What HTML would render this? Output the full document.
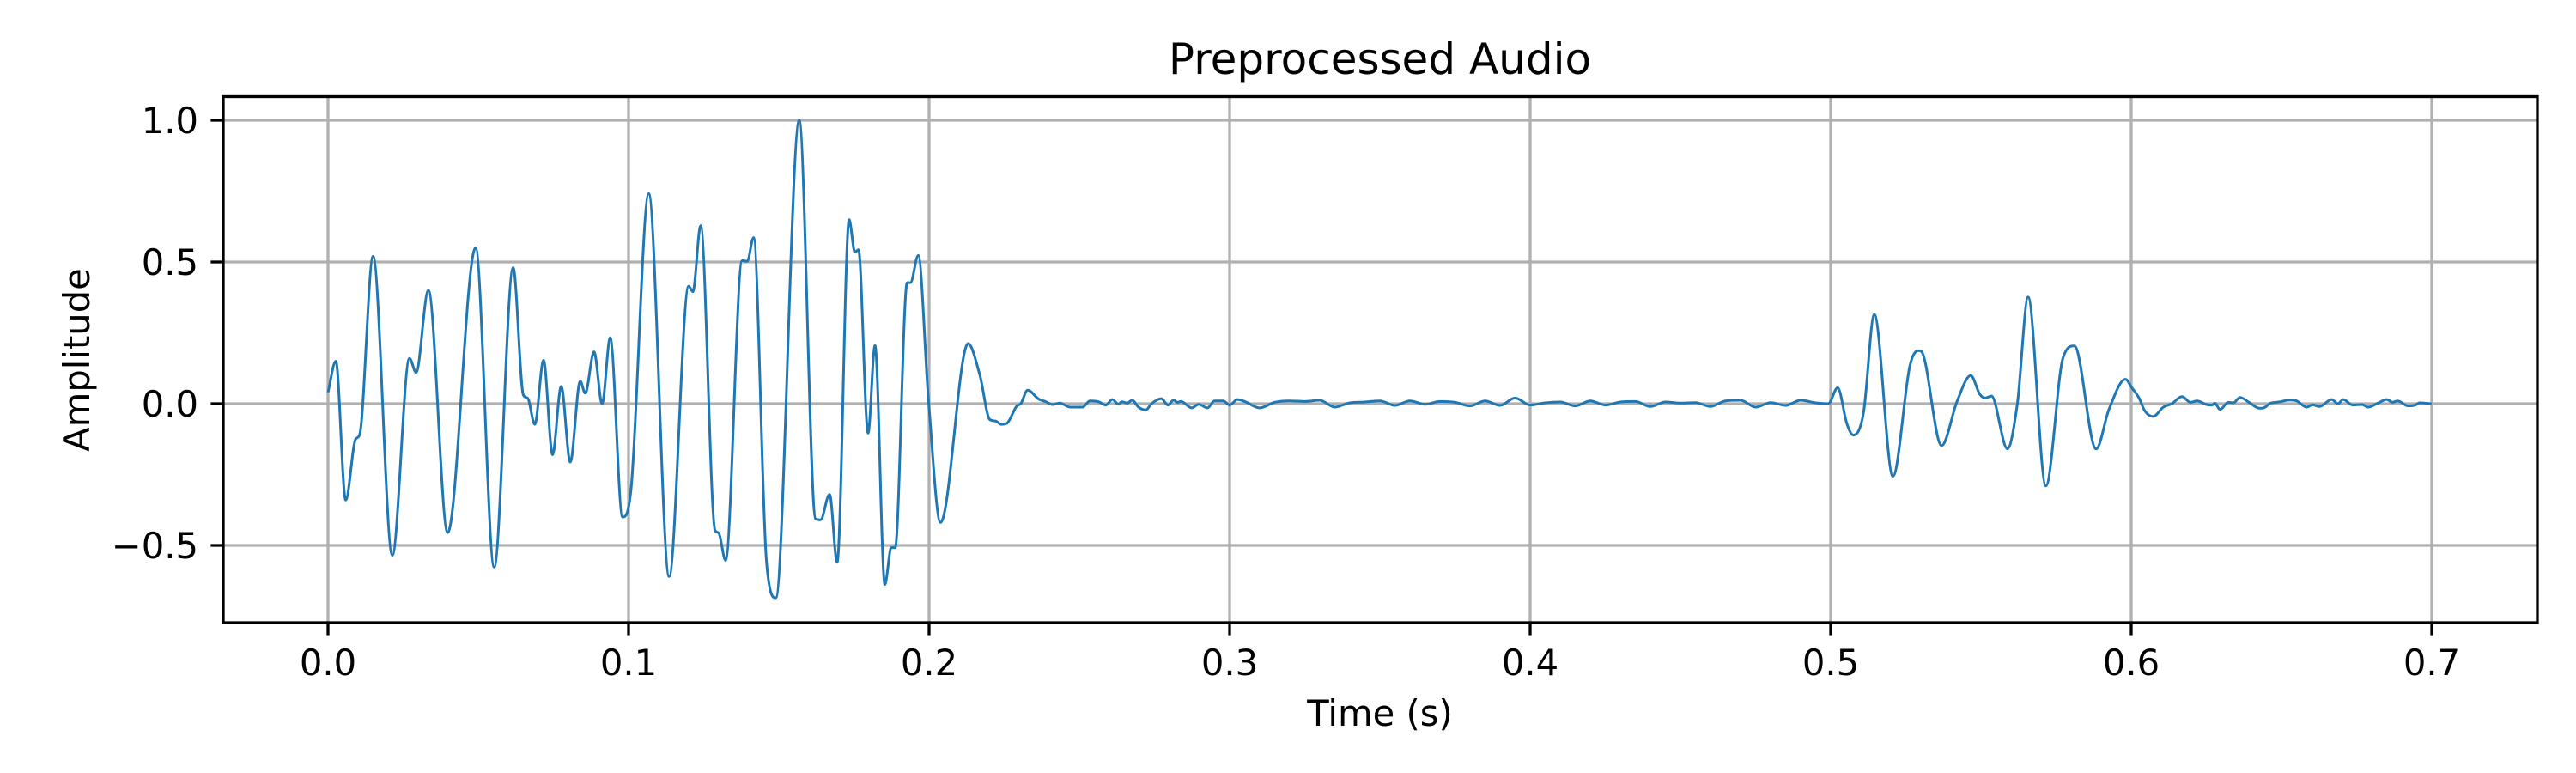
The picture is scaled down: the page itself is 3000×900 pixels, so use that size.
<!DOCTYPE html>
<html><head><meta charset="utf-8"><style>
html,body{margin:0;padding:0;background:#fff;}
svg{display:block;}
text{font-family:"DejaVu Sans","Liberation Sans",sans-serif;fill:#000;}
</style></head><body>
<svg id="chart" width="3000" height="900" viewBox="0 0 3000 900" xmlns="http://www.w3.org/2000/svg">
<rect x="0" y="0" width="3000" height="900" fill="#fff"/>
<g id="grid"></g>
<g id="series"></g>
<rect x="260" y="112.5" width="2695" height="612.5" fill="none" stroke="#000" stroke-width="3.3"/>
<g id="ticks"></g>
<text x="1607" y="86" font-size="50" text-anchor="middle">Preprocessed Audio</text>
<text x="1607" y="845" font-size="41.7" text-anchor="middle">Time (s)</text>
<text x="0" y="0" font-size="41.7" text-anchor="middle" transform="translate(104,419) rotate(-90)">Amplitude</text>
</svg>
<script>
const xTicks = [0.0, 0.1, 0.2, 0.3, 0.4, 0.5, 0.6, 0.7];
const xTickLabels = ["0.0","0.1","0.2","0.3","0.4","0.5","0.6","0.7"];
const yTicks = [-0.5, 0.0, 0.5, 1.0];
const yTickLabels = ["\u22120.5","0.0","0.5","1.0"];
const times = [0,0.0026,0.0059,0.0092,0.0105,0.0150,0.0214,0.0271,0.0293,0.0334,0.0398,0.0491,0.0553,0.0616,0.0650,0.0664,0.0688,0.0717,0.0747,0.0776,0.0806,0.0839,0.0856,0.0885,0.0912,0.0939,0.0980,0.1008,
0.1067,0.1135,0.1200,0.1214,0.1240,0.1288,0.1299,0.1323,0.1378,0.1395,0.1416,0.1459,0.1490,0.1568,0.1622,0.1639,0.1669,0.1694,0.1734,0.1753,0.1765,0.1797,0.1820,0.1853,0.1874,0.1887,0.1927,0.1938,0.1964,0.1998,0.2038,
0.2130,0.2169,0.2202,0.2221,0.2240,0.2259,0.2292,0.2305,0.2328,0.2364,0.2388,0.2411,0.2435,0.2469,0.2511,0.2535,0.2564,0.2588,0.2610,0.2630,0.2642,0.2659,0.2676,0.2697,0.2721,0.2740,0.2773,0.2795,0.2814,0.2826,0.2838,0.2874,0.2897,0.2926,0.2950,0.2979,0.3000,0.3026,
0.3050,0.3100,0.3150,0.3200,0.3250,0.3300,0.3350,0.3400,0.3450,0.3500,0.3550,0.3600,0.3650,0.3700,0.3750,0.3800,0.3850,0.3900,0.3950,0.4000,0.4050,0.4100,0.4150,0.4200,0.4250,0.4300,0.4350,0.4400,0.4450,0.4500,0.4550,0.4600,0.4650,0.4700,0.4750,0.4800,0.4850,0.4900,0.4950,
0.4992,0.5023,0.5054,0.5075,0.5097,0.5111,0.5145,0.5207,0.5264,0.5292,0.5302,0.5369,0.5421,0.5466,0.5497,0.5514,0.5535,0.5588,0.5621,0.5657,0.5716,0.5773,0.5811,0.5883,0.5926,0.5981,0.6002,0.6026,0.6045,0.6073,0.6107,0.6135,0.6169,0.6197,0.6219,0.6250,0.6269,0.6278,0.6295,0.6324,0.6340,0.6362,0.6392,0.6426,0.6440,0.6464,0.6483,0.6497,0.6526,0.6550,0.6583,0.6604,0.6626,0.6667,0.6688,0.6705,0.6737,0.6768,0.6788,0.6821,0.6850,0.6870,0.6886,0.6921,0.6945,0.6959,0.6999];
const amplitudes = [0.04,0.15,-0.34,-0.125,-0.11,0.52,-0.535,0.16,0.11,0.40,-0.455,0.55,-0.577,0.48,0.03,0.02,-0.073,0.153,-0.18,0.061,-0.206,0.079,0.037,0.183,0.0,0.233,-0.40,-0.305,
0.741,-0.61,0.415,0.395,0.628,-0.448,-0.455,-0.553,0.505,0.502,0.586,-0.56,-0.685,1.0,-0.406,-0.41,-0.32,-0.56,0.649,0.535,0.543,-0.104,0.205,-0.638,-0.508,-0.508,0.427,0.427,0.523,0.013,-0.419,
0.212,0.10,-0.056,-0.061,-0.073,-0.069,-0.008,0,0.048,0.017,0.007,-0.003,0.002,-0.012,-0.012,0.010,0.007,-0.005,0.015,-0.002,0.007,0.002,0.012,-0.012,-0.022,0,0.018,-0.005,0.013,0.005,0.008,-0.015,-0.002,-0.015,0.010,0.010,-0.005,0.015,
0.008,-0.015,0.005,0.01,0.008,0.012,-0.012,0.003,0.006,0.01,-0.006,0.01,-0.002,0.008,0.005,-0.008,0.01,-0.006,0.02,-0.005,0.003,0.006,-0.008,0.01,-0.005,0.006,0.008,-0.01,0.006,0.002,0.004,-0.01,0.01,0.012,-0.012,0.004,-0.006,0.012,0.003,
0,0.056,-0.071,-0.111,-0.086,-0.02,0.315,-0.256,0.136,0.187,0.184,-0.148,0.01,0.099,0.032,0.02,0.027,-0.159,0,0.376,-0.29,0.162,0.204,-0.160,-0.02,0.086,0.056,0.02,-0.025,-0.045,-0.012,0,0.025,0.005,0.010,-0.003,-0.005,0.002,-0.02,0.005,0.003,0.022,0.005,-0.016,-0.015,0.002,0.005,0.007,0.013,0.010,-0.012,-0.004,-0.010,0.015,0,0.015,-0.005,-0.003,-0.012,0.002,0.015,0.005,0.010,-0.008,-0.005,0.003,0];

const NS='http://www.w3.org/2000/svg';
const X0=382, XPER=3500, Y0=470, YPER=330, L=260, R=2955, T=112.5, B=725;
function sx(t){return X0+t*XPER;}
function sy(a){return Y0-a*YPER;}
function mk(tag,attrs,parent){const e=document.createElementNS(NS,tag);for(const k in attrs)e.setAttribute(k,attrs[k]);parent.appendChild(e);return e;}
const grid=document.getElementById('grid'), ticks=document.getElementById('ticks'), series=document.getElementById('series');
xTicks.forEach((v,i)=>{
  const x=sx(v);
  const g=mk('line',{x1:x,x2:x,y1:T,y2:B,stroke:'#b0b0b0','stroke-width':3.3},grid);
  
  
  const tk=mk('line',{x1:x,x2:x,y1:B,y2:B+14.6,stroke:'#000','stroke-width':3.3},ticks);
  
  
  const lb=mk('text',{x:x,y:786,'font-size':41.7,'text-anchor':'middle'},ticks);
  lb.textContent=xTickLabels[i];
  
  
});
yTicks.forEach((v,i)=>{
  const y=sy(v);
  const g=mk('line',{x1:L,x2:R,y1:y,y2:y,stroke:'#b0b0b0','stroke-width':3.3},grid);
  
  
  const tk=mk('line',{x1:L-14.6,x2:L,y1:y,y2:y,stroke:'#000','stroke-width':3.3},ticks);
  
  
  const lb=mk('text',{x:231,y:y+15,'font-size':41.7,'text-anchor':'end'},ticks);
  lb.textContent=yTickLabels[i];
  
  
});
// monotone cubic (Fritsch-Carlson) path through the sampled points
const px=times.map(sx), py=amplitudes.map(sy), n=px.length;
const d=[],m=[];
for(let i=0;i<n-1;i++){d.push((py[i+1]-py[i])/(px[i+1]-px[i]));}
m[0]=d[0];m[n-1]=d[n-2];
for(let i=1;i<n-1;i++){m[i]=(d[i-1]*d[i]<=0)?0:(d[i-1]+d[i])/2;}
for(let i=0;i<n-1;i++){
  if(d[i]===0){m[i]=0;m[i+1]=0;continue;}
  const a=m[i]/d[i],b=m[i+1]/d[i],s=a*a+b*b;
  if(s>9){const tt=3/Math.sqrt(s);m[i]=tt*a*d[i];m[i+1]=tt*b*d[i];}
}
let p='M'+px[0].toFixed(1)+','+py[0].toFixed(1);
for(let i=0;i<n-1;i++){
  const h=(px[i+1]-px[i])/3;
  p+=' C'+(px[i]+h).toFixed(1)+','+(py[i]+m[i]*h).toFixed(1)+' '+(px[i+1]-h).toFixed(1)+','+(py[i+1]-m[i+1]*h).toFixed(1)+' '+px[i+1].toFixed(1)+','+py[i+1].toFixed(1);
}
const line=mk('path',{d:p,fill:'none',stroke:'#1f77b4','stroke-width':3,'stroke-linejoin':'round'},series);


</script>
</body></html>
